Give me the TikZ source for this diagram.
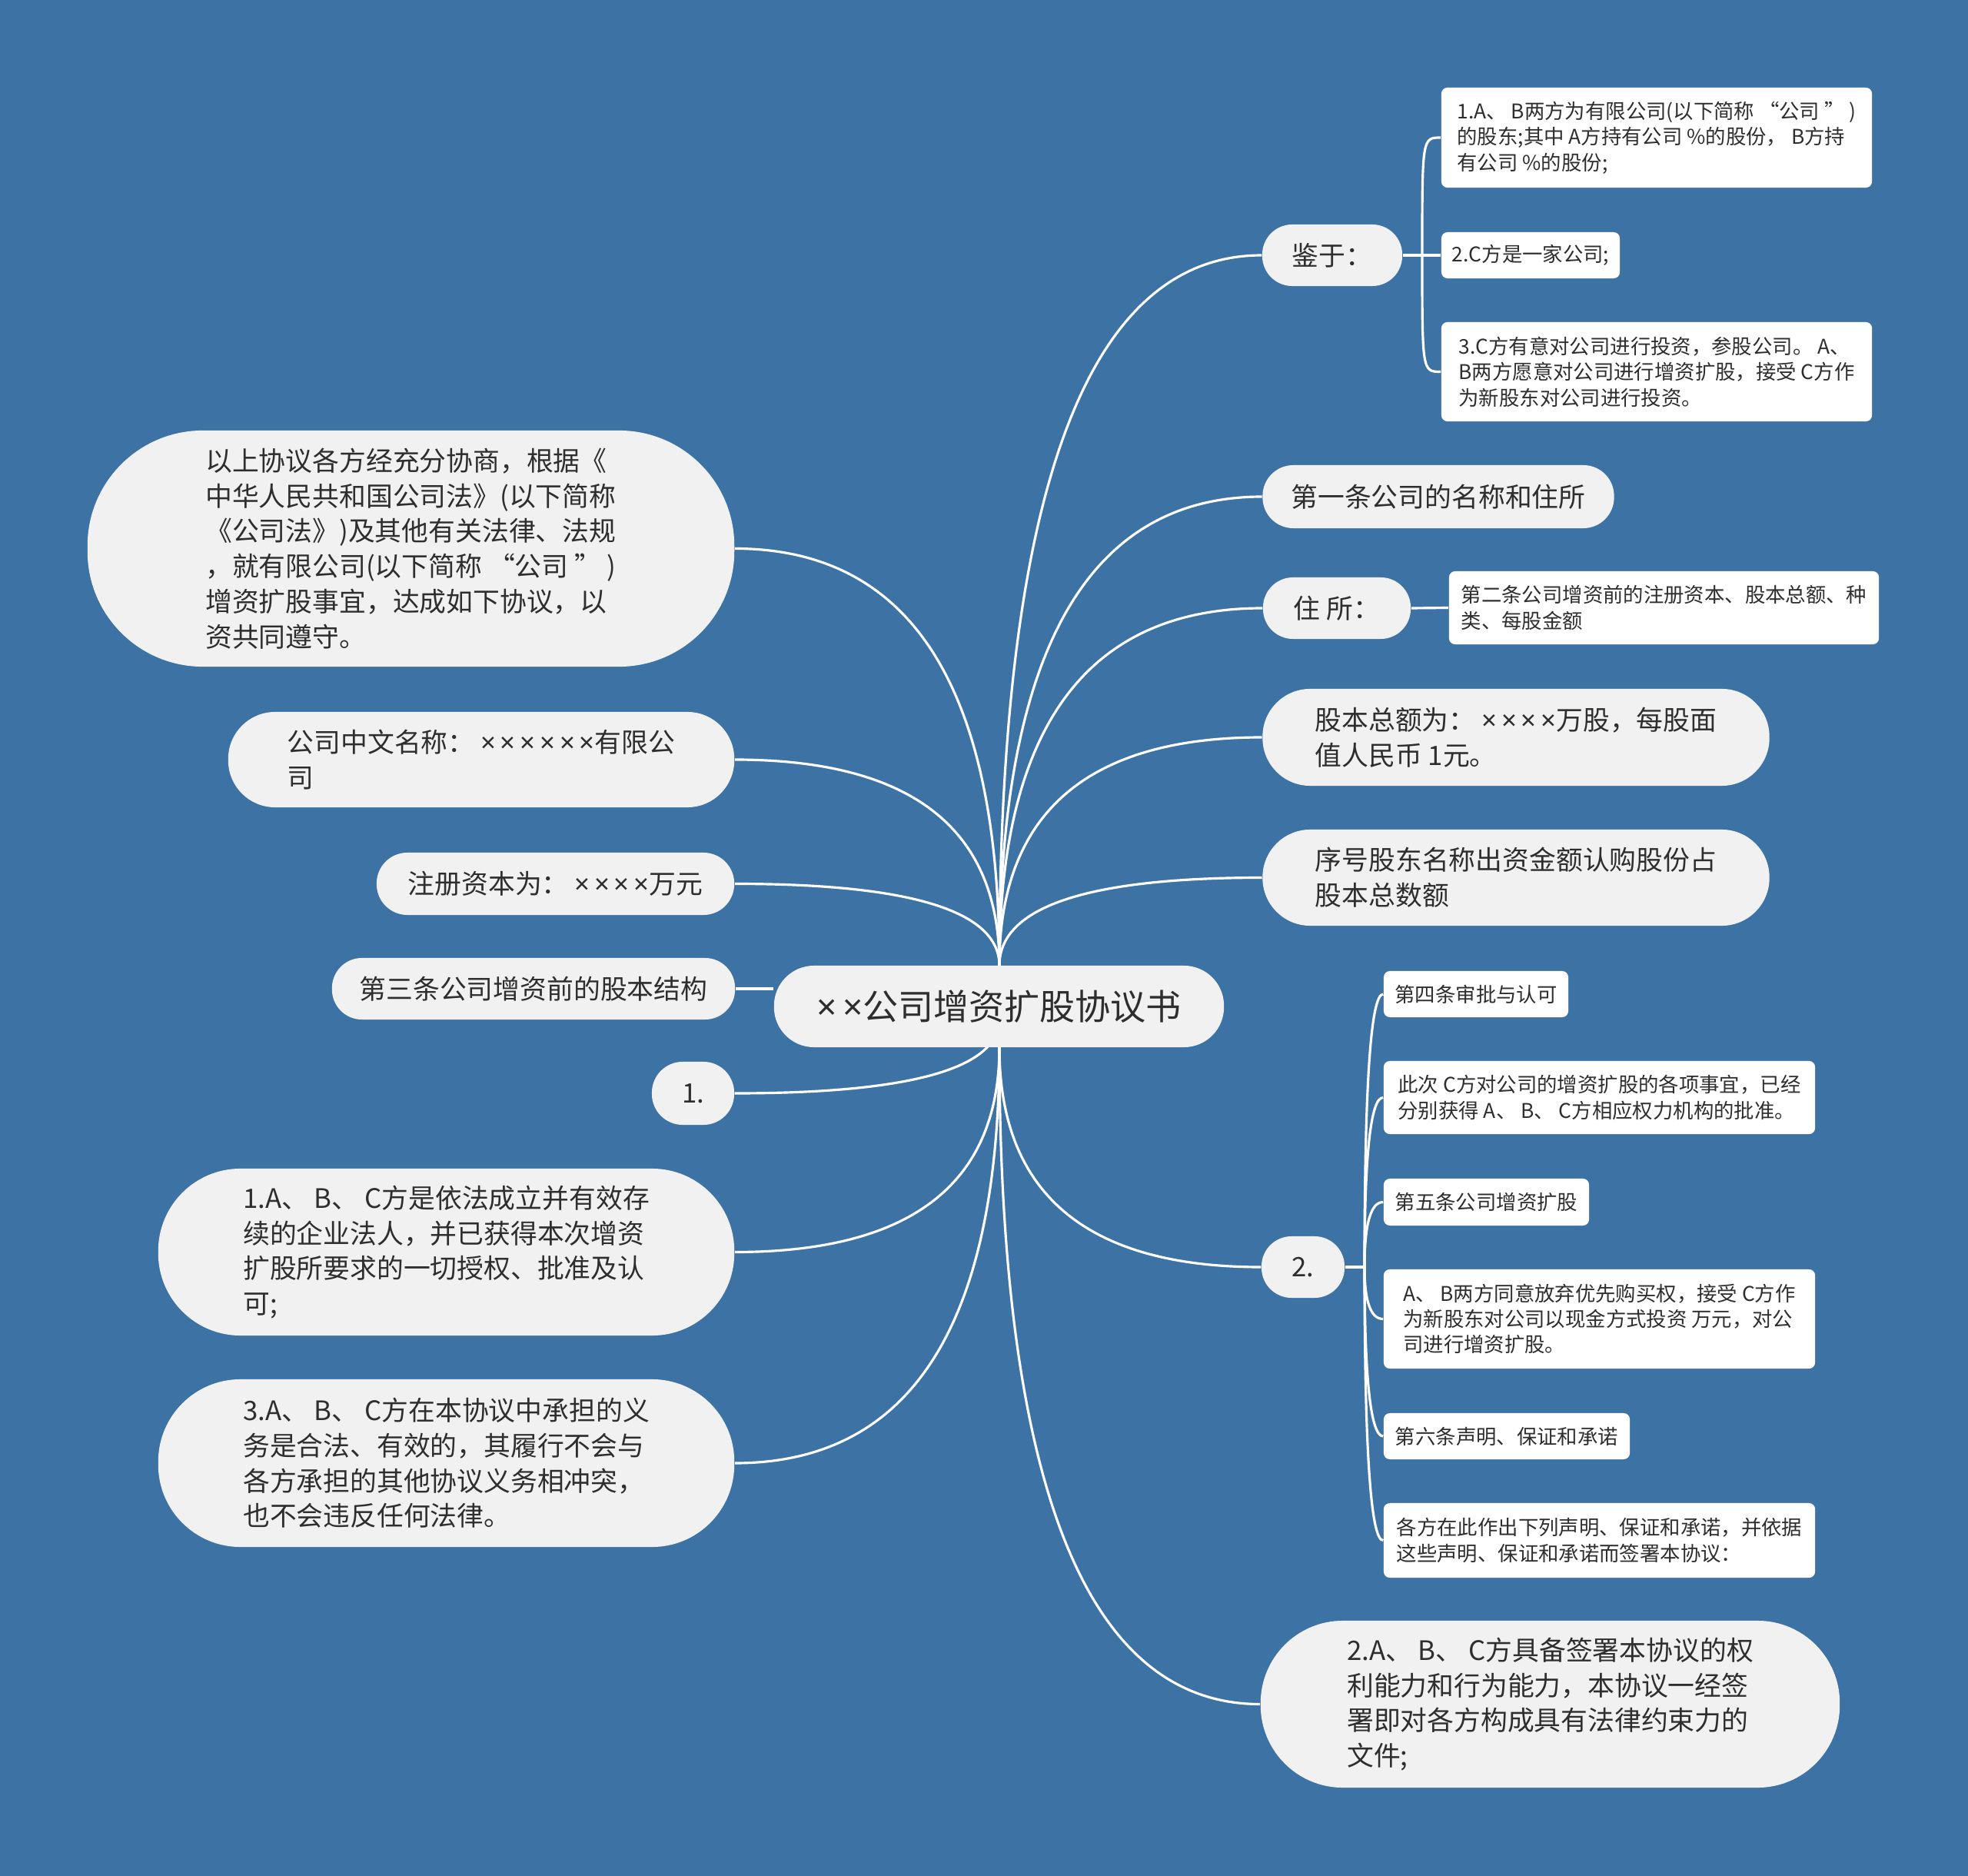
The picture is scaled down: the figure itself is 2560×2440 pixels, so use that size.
\documentclass[tikz,border=0pt]{standalone}
\usepackage{fontspec}
\usetikzlibrary{calc}
\setmainfont{Noto Sans CJK SC}
\newfontfamily\xfont{Noto Sans}
\newcommand\mytimes{{\xfont ×}}
\definecolor{bgc}{HTML}{3D72A4}
\definecolor{pillc}{HTML}{F1F1F1}
\definecolor{txtc}{HTML}{2E2E2E}
\pgfdeclarelayer{bglayer}
\pgfdeclarelayer{edgelayer}
\pgfsetlayers{bglayer,edgelayer,main}
\newcommand\qlink[2]{%
  \coordinate (qq) at (#1 |- #2);
  \draw[link] (#1) .. controls ($(#1)!0.6667!(qq)$) and ($(#2)!0.6667!(qq)$) .. (#2);}
\begin{document}
\begin{tikzpicture}[x=0.01cm,y=-0.01cm,
  pill/.style={fill=pillc,text=txtc,inner sep=0pt,align=left,font=\fontsize{9.9pt}{13pt}\selectfont},
  rootn/.style={pill,font=\fontsize{13.1pt}{16pt}\selectfont},
  leaf/.style={fill=white,text=txtc,inner xsep=0.06cm,inner ysep=0pt,rounded corners=0.08cm,align=left,font=\fontsize{7.5pt}{9.5pt}\selectfont},
  link/.style={draw=white,line width=0.9pt}]
\useasboundingbox (0,0) rectangle (2560,2440);
\begin{pgfonlayer}{bglayer}
\fill[bgc] (0,0) rectangle (2560,2440);
\end{pgfonlayer}

% root
\node[rootn,minimum width=5.85cm,minimum height=1.06cm,rounded corners=0.52cm] (C) at (1299.5,1309) {\mytimes\,\mytimes 公司增资扩股协议书};

% left branch
\node[pill,minimum width=8.41cm,minimum height=3.07cm,rounded corners=1.50cm] (L1) at (534.5,713.5) {以上协议各方经充分协商，根据《\\中华人民共和国公司法》(以下简称\\《公司法》)及其他有关法律、法规\\，就有限公司(以下简称 “公司 ” )\\增资扩股事宜，达成如下协议，以\\资共同遵守。};
\node[pill,minimum width=6.58cm,minimum height=1.24cm,rounded corners=0.61cm] (L2) at (626,988) {公司中文名称： \mytimes\,\mytimes\,\mytimes\,\mytimes\,\mytimes\,\mytimes 有限公\\司};
\node[pill,minimum width=4.65cm,minimum height=0.81cm,rounded corners=0.40cm] (L3) at (722.5,1149.5) {注册资本为： \mytimes\,\mytimes\,\mytimes\,\mytimes 万元};
\node[pill,minimum width=5.24cm,minimum height=0.80cm,rounded corners=0.39cm] (L4) at (694,1286) {第三条公司增资前的股本结构};
\node[pill,minimum width=1.07cm,minimum height=0.82cm,rounded corners=0.40cm] (L5) at (901.5,1422) {1.};
\node[pill,minimum width=7.49cm,minimum height=2.17cm,rounded corners=1.07cm] (L6) at (580.5,1628.5) {1.A、 B、 C方是依法成立并有效存\\续的企业法人，并已获得本次增资\\扩股所要求的一切授权、批准及认\\可;};
\node[pill,minimum width=7.49cm,minimum height=2.18cm,rounded corners=1.07cm] (L7) at (580.5,1903) {3.A、 B、 C方在本协议中承担的义\\务是合法、有效的，其履行不会与\\各方承担的其他协议义务相冲突，\\也不会违反任何法律。};

% right branch
\node[pill,minimum width=1.82cm,minimum height=0.80cm,rounded corners=0.39cm] (R1) at (1733,332) {鉴于：};
\node[pill,minimum width=4.57cm,minimum height=0.82cm,rounded corners=0.40cm] (R2) at (1871,646) {第一条公司的名称和住所};
\node[pill,minimum width=1.92cm,minimum height=0.80cm,rounded corners=0.39cm] (R3) at (1739,791) {住 所：};
\node[pill,minimum width=6.59cm,minimum height=1.26cm,rounded corners=0.62cm] (R4) at (1972,959) {股本总额为： \mytimes\,\mytimes\,\mytimes\,\mytimes 万股，每股面\\值人民币 1元。};
\node[pill,minimum width=6.59cm,minimum height=1.25cm,rounded corners=0.62cm] (R5) at (1972,1141.5) {序号股东名称出资金额认购股份占\\股本总数额};
\node[pill,minimum width=1.08cm,minimum height=0.80cm,rounded corners=0.39cm] (R6) at (1695,1648) {2.};
\node[pill,minimum width=7.53cm,minimum height=2.17cm,rounded corners=1.07cm] (R7) at (2016.5,2216.5) {2.A、 B、 C方具备签署本协议的权\\利能力和行为能力，本协议一经签\\署即对各方构成具有法律约束力的\\文件;};

% leaves of 鉴于
\node[leaf,minimum width=5.60cm,minimum height=1.30cm] (K1) at (2155,179) {1.A、 B两方为有限公司(以下简称 “公司 ” )\\的股东;其中 A方持有公司 \%的股份， B方持\\有公司 \%的股份;};
\node[leaf,minimum width=2.32cm,minimum height=0.60cm] (K2) at (1991,332) {2.C方是一家公司;};
\node[leaf,minimum width=5.60cm,minimum height=1.29cm] (K3) at (2155,483.5) {3.C方有意对公司进行投资，参股公司。 A、\\B两方愿意对公司进行增资扩股，接受 C方作\\为新股东对公司进行投资。};

% leaf of 住所
\node[leaf,minimum width=5.59cm,minimum height=0.95cm] (Z1) at (2164.5,790.5) {第二条公司增资前的注册资本、股本总额、种\\类、每股金额};

% leaves of 2.
\node[leaf,minimum width=2.40cm,minimum height=0.60cm] (T1) at (1920,1293) {第四条审批与认可};
\node[leaf,minimum width=5.61cm,minimum height=0.95cm] (T2) at (2080.5,1427.5) {此次 C方对公司的增资扩股的各项事宜，已经\\分别获得 A、 B、 C方相应权力机构的批准。};
\node[leaf,minimum width=2.67cm,minimum height=0.61cm] (T3) at (1933.5,1563.5) {第五条公司增资扩股};
\node[leaf,minimum width=5.61cm,minimum height=1.29cm] (T4) at (2080.5,1715.5) {A、 B两方同意放弃优先购买权，接受 C方作\\为新股东对公司以现金方式投资 万元，对公\\司进行增资扩股。};
\node[leaf,minimum width=3.20cm,minimum height=0.60cm] (T5) at (1960,1868) {第六条声明、保证和承诺};
\node[leaf,minimum width=5.61cm,minimum height=0.97cm] (T6) at (2080.5,2003.5) {各方在此作出下列声明、保证和承诺，并依据\\这些声明、保证和承诺而签署本协议：};

% connectors
\begin{pgfonlayer}{edgelayer}
\coordinate (ct) at (1300,1256);
\coordinate (cb) at (1300,1362);
\coordinate (c1) at (1300,1325);
\coordinate (j1) at (1850,332);
\coordinate (j2) at (1775,1648);
\foreach \n in {L1,L2,L3}
  {\qlink{ct}{\n.east}}
\foreach \n in {R1,R2,R3,R4,R5}
  {\qlink{ct}{\n.west}}
\draw[link] (L4.east) -- (L4.east -| C.west);
\qlink{c1}{L5.east}
\foreach \n in {L6,L7}
  {\qlink{cb}{\n.east}}
\foreach \n in {R6,R7}
  {\qlink{cb}{\n.west}}
\draw[link] (R1.east) -- (j1);
\foreach \n in {K1,K2,K3}
  \draw[link] (j1) .. controls (j1 |- \n.west) .. (\n.west);
\draw[link] (R3.east) -- (Z1.west);
\draw[link] (R6.east) -- (j2);
\foreach \n in {T1,T2,T3,T4,T5,T6}
  {\qlink{j2}{\n.west}}
\end{pgfonlayer}
\end{tikzpicture}
\end{document}
